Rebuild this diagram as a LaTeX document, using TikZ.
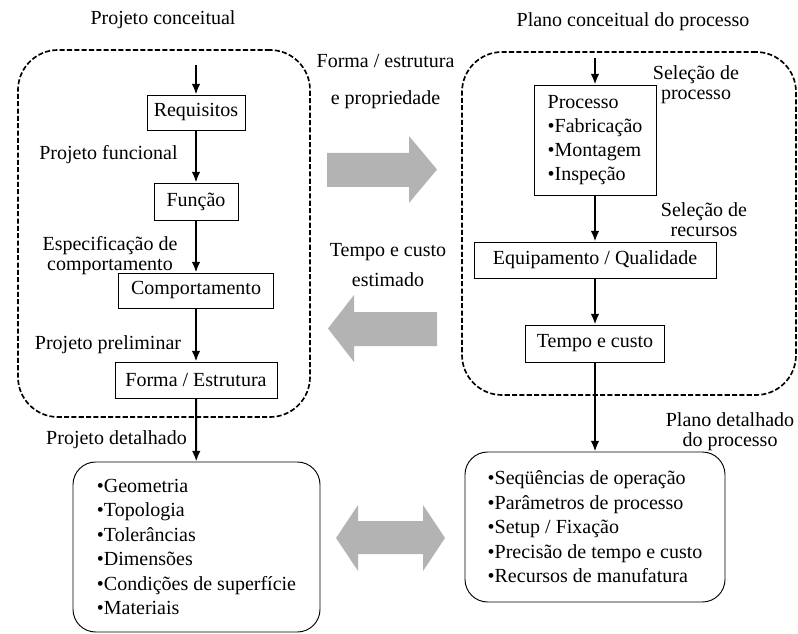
\documentclass[tikz,border=0pt]{standalone}
\usepackage{fontspec}
\setmainfont{Liberation Serif}
\usetikzlibrary{arrows.meta}
\definecolor{arrowgray}{HTML}{B3B3B3}

\begin{document}
\begin{tikzpicture}[x=0.75pt,y=-0.75pt,font=\fontsize{15}{15}\selectfont]
        \useasboundingbox (0,0) rectangle (798,634);

        % dashed regions
        \begin{scope}[every node/.style={draw, rounded corners=30pt, line width=1.25pt, dash pattern=on 3.8pt off 1.7pt, inner sep=0pt}]
          \node[minimum width=219pt, minimum height=275.25pt]   (conc)  at (164,233.5) {};
          \node[minimum width=250.5pt, minimum height=257.25pt] (plano) at (629,223.5) {};
        \end{scope}

        % gray arrows
        \fill[arrowgray] (327,153) -- (409,153) -- (409,136) -- (437,169.5) -- (409,203) -- (409,187) -- (327,187) -- cycle;
        \fill[arrowgray] (437,312) -- (354,312) -- (354,295) -- (328,328.5) -- (354,362) -- (354,346) -- (437,346) -- cycle;
        \fill[arrowgray] (336,538) -- (358,505) -- (358,521) -- (423,521) -- (423,505) -- (445,538)
                      -- (423,571) -- (423,554) -- (358,554) -- (358,571) -- cycle;

        \begin{scope}[every node/.style={draw, line width=0.7pt, inner sep=0pt}]
          \node[minimum width=73.5pt,  minimum height=26.25pt] (req)   at (196,112.5) {Requisitos};
          \node[minimum width=63pt,    minimum height=27.75pt] (func)  at (196,201.5) {Função};
          \node[minimum width=116.25pt,minimum height=26.25pt] (comp)  at (196,290.5) {Comportamento};
          \node[minimum width=121.5pt, minimum height=27pt]    (forma) at (196,380)   {Forma / Estrutura};
          \node[minimum width=91.5pt,  minimum height=82.5pt, align=left, font=\fontsize{15}{18}\selectfont]
                                                               (proc)  at (595,140)   {Processo\\•Fabricação\\•Montagem\\•Inspeção};
          \node[minimum width=181.5pt, minimum height=27pt]    (equip) at (595,260)   {Equipamento / Qualidade};
          \node[minimum width=104.25pt,minimum height=27.75pt] (tempo) at (595,343.5) {Tempo e custo};
        \end{scope}

        \begin{scope}[every node/.style={draw, line width=0.7pt, rounded corners=17pt, inner sep=0pt, align=left, font=\fontsize{15}{18.4}\selectfont}]
          \node[minimum width=185.25pt, minimum height=127.5pt] (geom) at (196.5,547)
            {•Geometria\\•Topologia\\•Tolerâncias\\•Dimensões\\•Condições de superfície\\•Materiais};
          \node[minimum width=195pt, minimum height=112.5pt] (seq) at (595,527)
            {•Seqüências de operação\\•Parâmetros de processo\\•Setup / Fixação\\•Precisão de tempo e custo\\•Recursos de manufatura};
        \end{scope}

        \begin{scope}[every node/.style={align=center, inner sep=0pt}]
          \node (tconc)  at (163,20)    {Projeto conceitual};
          \node (tplano) at (633,22)    {Plano conceitual do processo};
          \node (tfunc)  at (108.5,155) {Projeto funcional};
          \node (tespec) at (110,256)   {Especificação de\\comportamento};
          \node (tprel)  at (108,345)   {Projeto preliminar};
          \node (tdet)   at (116.5,440) {Projeto detalhado};
          \node[font=\fontsize{15}{27.75}\selectfont] (tforma) at (385.5,81.5) {Forma / estrutura\\e propriedade};
          \node[font=\fontsize{15}{22.5}\selectfont]  (ttempo) at (388,265)   {Tempo e custo\\estimado};
          \node (tselp)  at (696,85)    {Seleção de\\processo};
          \node (tselr)  at (704,220)   {Seleção de\\recursos};
          \node (tpdet)  at (730,432)   {Plano detalhado\\do processo};
        \end{scope}

        \coordinate (inL) at (196,65);
        \coordinate (inR) at (595,58);

        \begin{scope}[every edge/.style={draw, line width=1.5pt, -{Latex[length=8pt,width=6.5pt]}}]
          \path (inL)   edge (req);
          \path (req)   edge (func);
          \path (func)  edge (comp);
          \path (comp)  edge (forma);
          \path (forma) edge (geom);
          \path (inR)   edge (proc);
          \path (proc)  edge (equip);
          \path (equip) edge (tempo);
          \path (tempo) edge (seq);
        \end{scope}

      \end{tikzpicture}
\end{document}
